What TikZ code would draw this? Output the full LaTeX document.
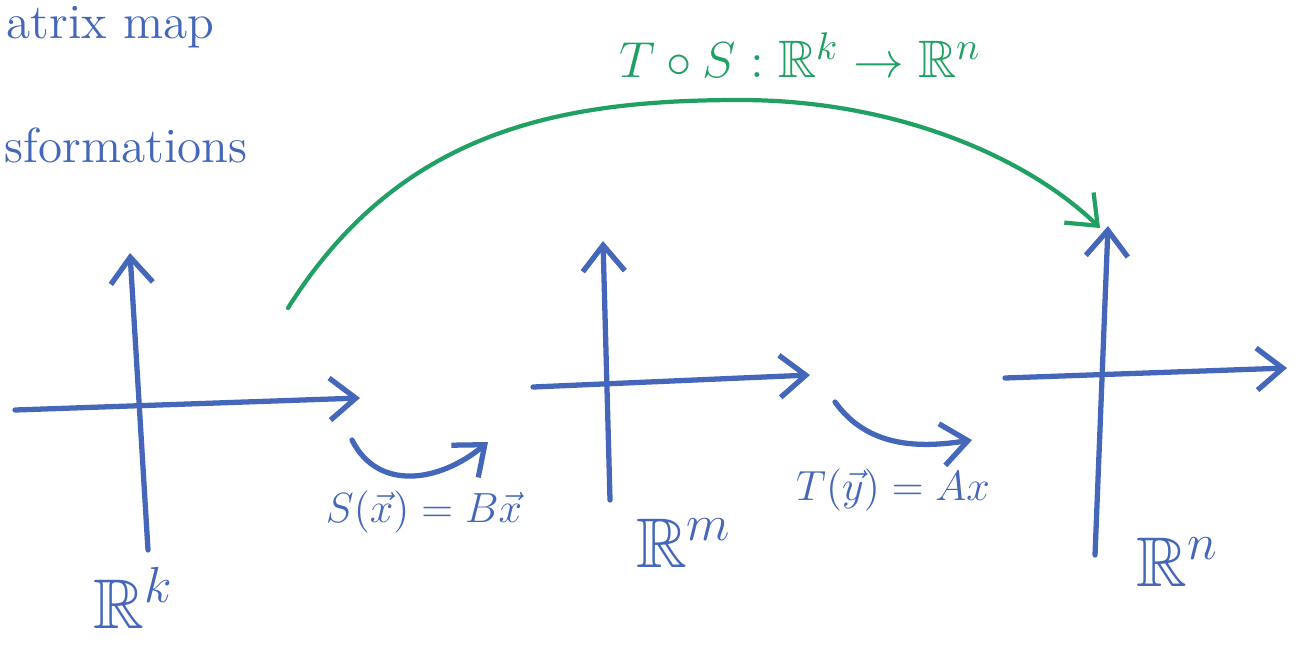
\documentclass[tikz,border=0pt]{standalone}
\usepackage{amsmath,amssymb}
\usepackage{xcolor}
\usepackage{tikz}
\usetikzlibrary{arrows.meta}
\definecolor{penblue}{RGB}{68,103,186}
\definecolor{pengreen}{RGB}{32,160,98}

\begin{document}
\begin{tikzpicture}[x=0.01cm, y=-0.01cm, line width=1.5pt, line cap=round,
        >={Straight Barb[length=2.6mm,width=4.2mm]},
        every node/.style={text=penblue}]
        \useasboundingbox (0,0) rectangle (1298,645);
        \clip (0,0) rectangle (1298,645);
        % heading, close to the top edge
        \node[anchor=base west, inner sep=0pt, font=\fontsize{14}{17}\selectfont] (head) at (4,38) {atrix map};
        \node[anchor=base west, inner xsep=0pt, font=\fontsize{14}{17}\selectfont] (sub) at (2,162) {sformations};
        % axes of R^k
        \coordinate (kL) at (15,410);   \coordinate (kR) at (360,398);
        \coordinate (kB) at (148,550);  \coordinate (kT) at (130,253);
        \draw[penblue,->] (kL) -- (kR);
        \draw[penblue,->] (kB) -- (kT);
        % axes of R^m
        \coordinate (mL) at (533,387);  \coordinate (mR) at (810,375);
        \coordinate (mB) at (610,500);  \coordinate (mT) at (603,241);
        \draw[penblue,->] (mL) -- (mR);
        \draw[penblue,->] (mB) -- (mT);
        % axes of R^n
        \coordinate (nL) at (1005,378); \coordinate (nR) at (1287,368);
        \coordinate (nB) at (1095,555); \coordinate (nT) at (1108,226);
        \draw[penblue,->] (nL) -- (nR);
        \draw[penblue,->] (nB) -- (nT);
        % space labels
        \node[font=\fontsize{20}{24}\selectfont] (Rk) at (134,598) {$\mathbb{R}^k$};
        \node[font=\fontsize{20}{24}\selectfont] (Rm) at (684,543) {$\mathbb{R}^m$};
        \node[font=\fontsize{20}{24}\selectfont] (Rn) at (1178,562) {$\mathbb{R}^n$};
        % the two maps
        \coordinate (sA) at (352,440);  \coordinate (sB) at (488,442);
        \draw[penblue,->] (sA) .. controls (378,492) and (440,482) .. (sB);
        \node[font=\fontsize{12}{15}\selectfont] (Slbl) at (424,512) {$S(\vec{x}) = B\vec{x}$};
        \coordinate (tA) at (835,402);  \coordinate (tB) at (972,440);
        \draw[penblue,->] (tA) .. controls (868,448) and (920,448) .. (tB);
        \node[font=\fontsize{12}{15}\selectfont] (Tlbl) at (893,490) {$T(\vec{y}) = Ax$};
        % composition
        \coordinate (cA) at (288,308);  \coordinate (cP) at (740,100);
        \coordinate (cB) at (1100,228);
        \draw[pengreen,line width=1.2pt,->] (cA) .. controls (400,130) and (560,100) .. (cP)
            .. controls (900,100) and (1030,160) .. (cB);
        \node[text=pengreen, font=\fontsize{15}{18}\selectfont] (TS) at (800,55) {$T\circ S : \mathbb{R}^k \to \mathbb{R}^n$};
\end{tikzpicture}
\end{document}
